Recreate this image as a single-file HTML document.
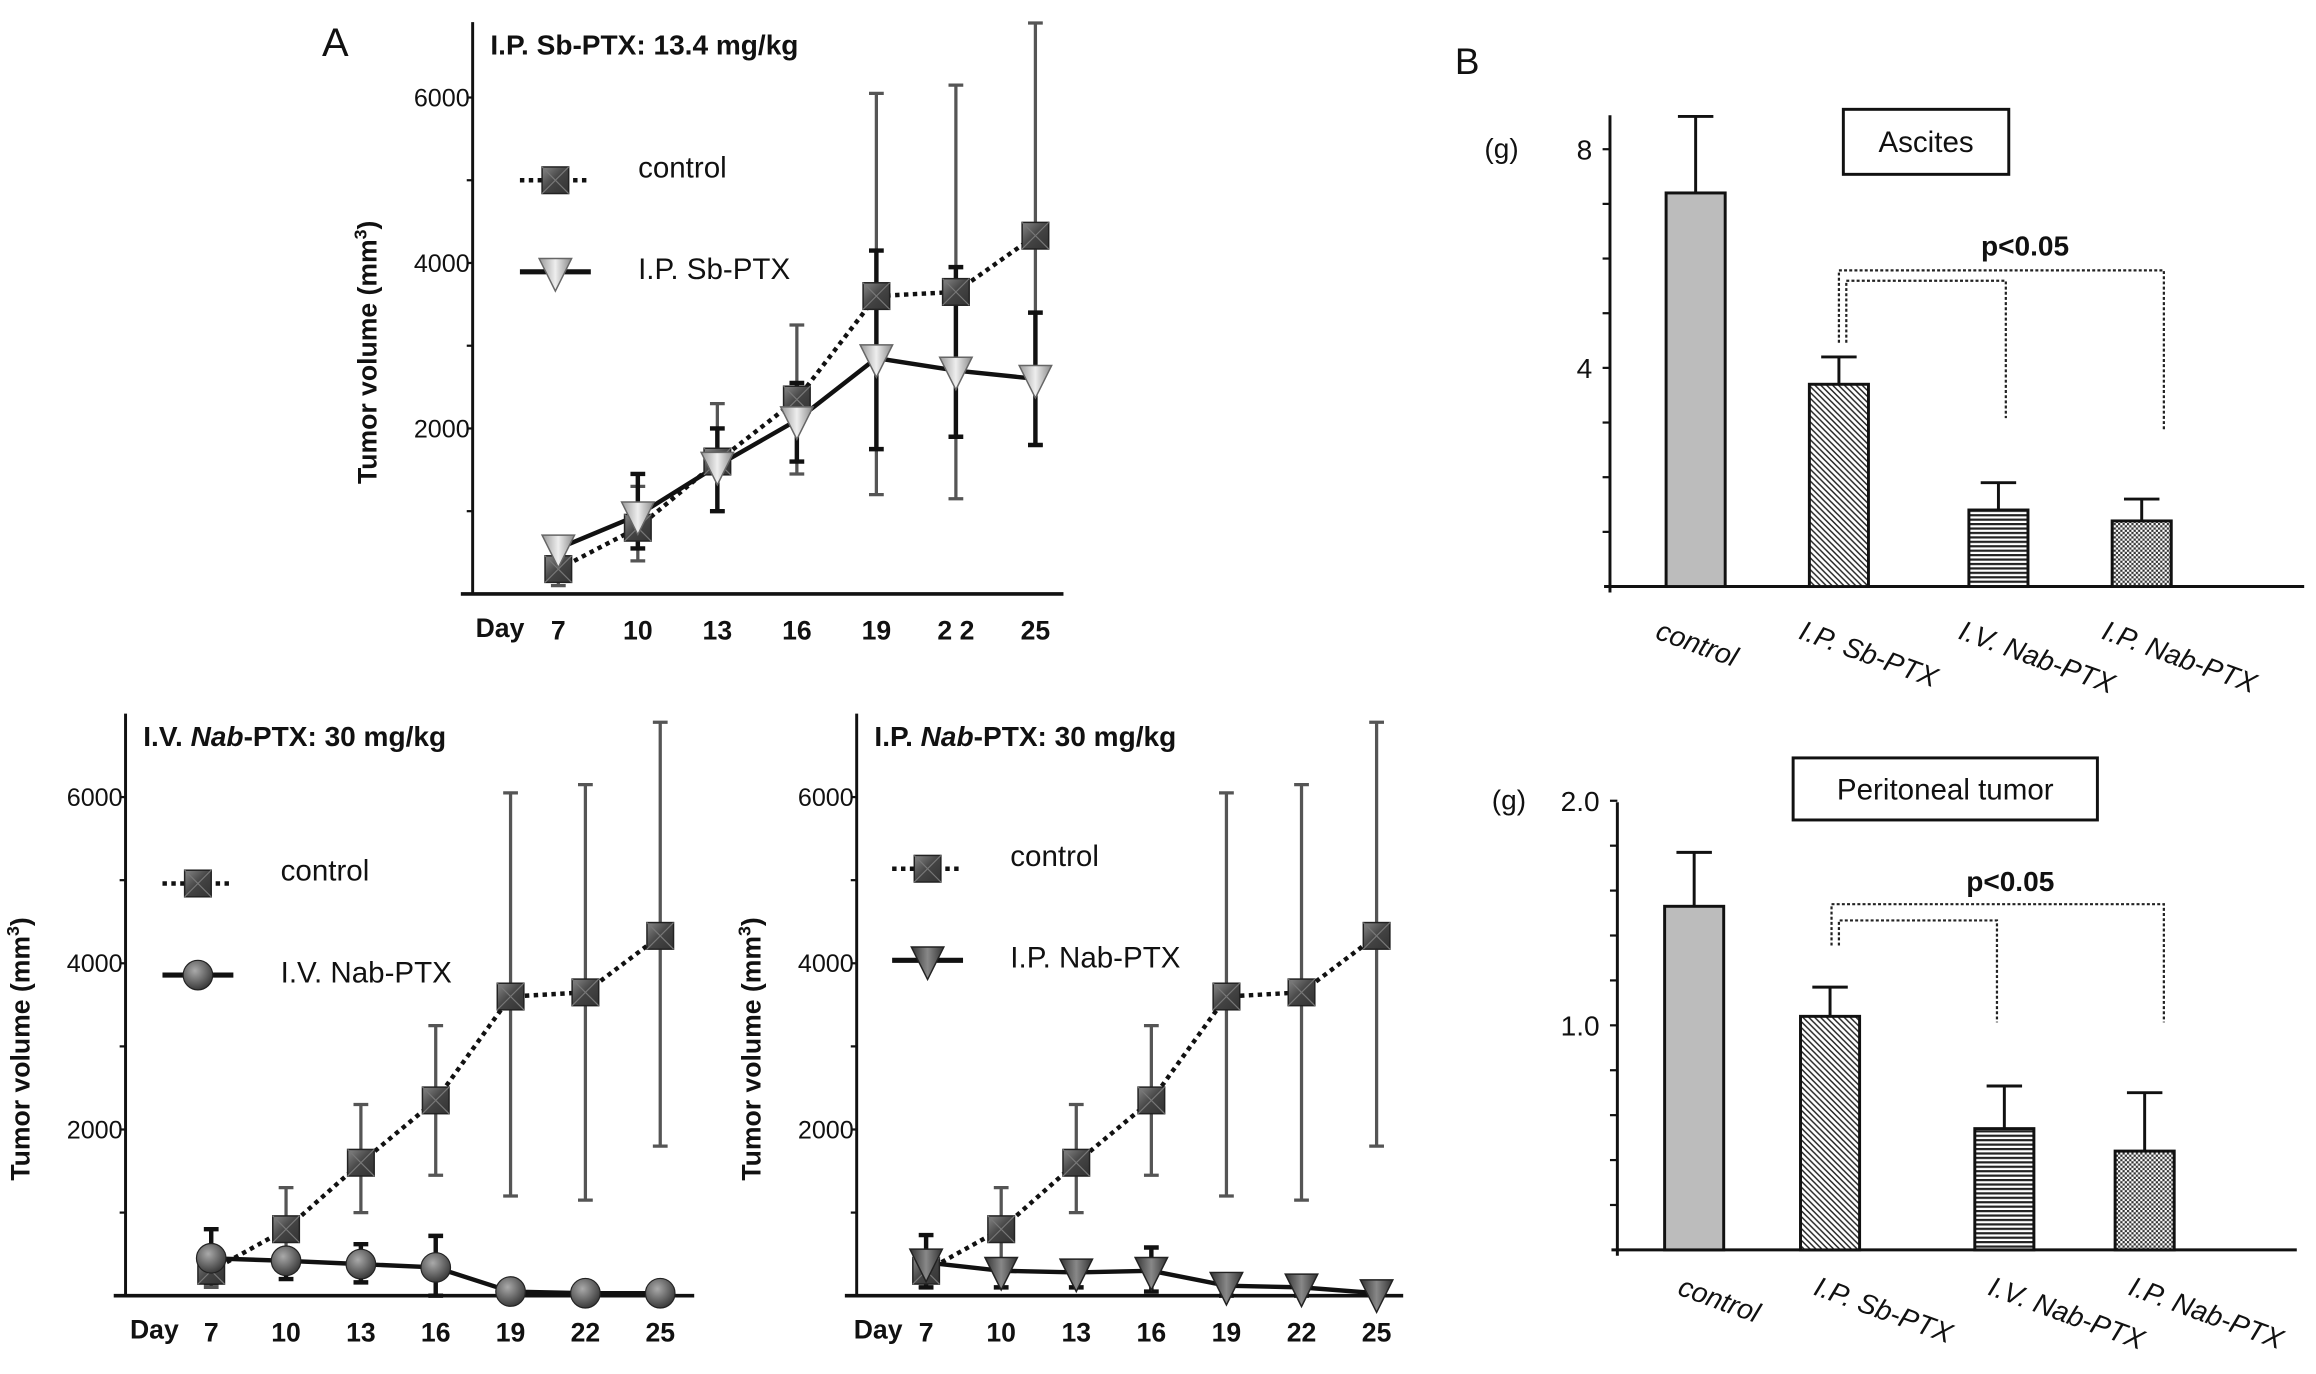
<!DOCTYPE html>
<html><head><meta charset="utf-8"><style>
html,body{margin:0;padding:0;background:#fff;width:2316px;height:1374px;overflow:hidden}
svg{display:block}
text{font-family:"Liberation Sans",Arial,sans-serif;fill:#111}
</style></head><body>
<svg id="fig" width="2316" height="1374" viewBox="0 0 1568 930" preserveAspectRatio="none" xmlns="http://www.w3.org/2000/svg">
<defs>
<linearGradient id="sq" x1="0" y1="0" x2="1" y2="1"><stop offset="0" stop-color="#888"/><stop offset="0.5" stop-color="#444"/><stop offset="1" stop-color="#333"/></linearGradient>
<linearGradient id="tri" x1="0" y1="0" x2="1" y2="0"><stop offset="0" stop-color="#999"/><stop offset="0.5" stop-color="#eee"/><stop offset="1" stop-color="#888"/></linearGradient>
<linearGradient id="tri2" x1="0" y1="0" x2="1" y2="0"><stop offset="0" stop-color="#333"/><stop offset="0.5" stop-color="#888"/><stop offset="1" stop-color="#333"/></linearGradient>
<radialGradient id="ball" cx="0.4" cy="0.35" r="0.7"><stop offset="0" stop-color="#aaa"/><stop offset="1" stop-color="#333"/></radialGradient>
<pattern id="diag" width="4" height="4" patternUnits="userSpaceOnUse"><rect width="4" height="4" fill="#fff"/><path d="M0,0 L4,4 M-1,3 L1,5 M3,-1 L5,1" stroke="#222" stroke-width="1"/></pattern>
<pattern id="horiz" width="4" height="3" patternUnits="userSpaceOnUse"><rect width="4" height="3" fill="#fff"/><rect y="0" width="4" height="1.5" fill="#222"/></pattern>
<pattern id="check" width="3" height="3" patternUnits="userSpaceOnUse"><rect width="3" height="3" fill="#fff"/><rect width="1.5" height="1.5" fill="#333"/><rect x="1.5" y="1.5" width="1.5" height="1.5" fill="#333"/></pattern>
</defs>
<text x="218" y="38" font-size="27">A</text>
<text x="985" y="50" font-size="25">B</text>
<g id="charts"></g>
</svg>
<script>
const days=[7,10,13,16,19,22,25];
const ctrlMean=[300,800,1600,2350,3600,3650,4330];
const ctrlHi=[450,1300,2300,3250,6050,6150,6900];
const ctrlLo=[100,400,1000,1450,1200,1150,1800];
const sbMean=[550,950,1550,2100,2850,2700,2600];
const sbHi=[650,1450,2000,2550,4150,3950,3400];
const sbLo=[300,550,1000,1600,1750,1900,1800];
const ivMean=[450,420,380,340,50,30,30];
const ivHi=[800,550,620,720,80,60,60];
const ivLo=[150,200,160,0,0,0,0];
const ipMean=[400,300,280,300,120,100,30];
const ipHi=[730,320,420,580,140,120,50];
const ipLo=[100,100,100,50,0,0,0];
const yTicks=[2000,4000,6000];
const barCats=['control','I.P. Sb-PTX','I.V. Nab-PTX','I.P. Nab-PTX'];
const ascMean=[7.2,3.7,1.4,1.2];
const ascErr=[8.6,4.2,1.9,1.6];
const perMean=[1.53,1.04,0.54,0.44];
const perErr=[1.77,1.17,0.73,0.70];
const ascTicks=[4,8];
const perTicks=['1.0','2.0'];

const NS='http://www.w3.org/2000/svg';
const root=document.getElementById('charts');
function el(tag,attrs,parent,txt){const e=document.createElementNS(NS,tag);for(const k in attrs)e.setAttribute(k,attrs[k]);if(txt!==undefined)e.textContent=txt;(parent||root).appendChild(e);return e;}

function marker(g,kind,x,y){
  if(kind==='sq'){el('rect',{x:x-9,y:y-9,width:18,height:18,fill:'url(#sq)',stroke:'#222','stroke-width':1},g);
    el('path',{d:`M${x-9},${y-9}L${x+9},${y+9}M${x+9},${y-9}L${x-9},${y+9}`,stroke:'#777','stroke-width':0.8},g);}
  else if(kind==='tri'){el('path',{d:`M${x-11},${y-9}L${x+11},${y-9}L${x},${y+13}Z`,fill:'url(#tri)',stroke:'#666','stroke-width':1},g);}
  else if(kind==='tri2'){el('path',{d:`M${x-11},${y-9}L${x+11},${y-9}L${x},${y+13}Z`,fill:'url(#tri2)',stroke:'#222','stroke-width':1},g);}
  else {el('ellipse',{cx:x,cy:y,rx:10,ry:10,fill:'url(#ball)',stroke:'#222','stroke-width':0.8},g);}
}

function lineChart(c){
  const g=el('g',{});
  
  
  const X=d=>c.x0+(d-7)*(c.x1-c.x0)/18;
  const Y=v=>c.base-v*c.per2000/2000;
  const ya=el('line',{x1:c.ax,y1:c.top,x2:c.ax,y2:c.base,stroke:'#111','stroke-width':2},g);
  
  const xa=el('line',{x1:c.ax-8,y1:c.base,x2:c.xEnd,y2:c.base,stroke:'#111','stroke-width':2.5},g);
  
  for(let v=1000;v<=6000;v+=1000){el('line',{x1:c.ax-4,y1:Y(v),x2:c.ax,y2:Y(v),stroke:'#111','stroke-width':1.5},g);}
  yTicks.forEach(v=>{const t=el('text',{x:c.ax-2,y:Y(v)+6,'font-size':17,'text-anchor':'end'},g,String(v));
    });
  const dl=el('text',{x:c.dayX,y:c.base+29,'font-size':18,'font-weight':'bold'},g,'Day');
  
  days.forEach(d=>{const t=el('text',{x:X(d),y:c.base+31,'font-size':18,'font-weight':'bold','text-anchor':'middle'},g,d===22&&c.sp?'2 2':String(d));
    });
  const yt=el('text',{transform:`translate(${c.ax-65},${(c.top+c.base)/2+30}) rotate(-90)`,'font-size':18,'font-weight':'bold','text-anchor':'middle'},g);
  
  yt.innerHTML='Tumor volume (mm<tspan dy="-7" font-size="12">3</tspan><tspan dy="7">)</tspan>';
  const ti=el('text',{x:c.ax+12,y:c.top+22,'font-size':19,'font-weight':'bold'},g);
  
  ti.innerHTML=c.title;
  function errs(mean,hi,lo,col,w){days.forEach((d,i)=>{const x=X(d);
    const e=el('path',{d:`M${x},${Y(hi[i])}L${x},${Y(lo[i])}M${x-5},${Y(hi[i])}L${x+5},${Y(hi[i])}M${x-5},${Y(lo[i])}L${x+5},${Y(lo[i])}`,stroke:col,'stroke-width':w,fill:'none'},g);
    });}
  errs(ctrlMean,ctrlHi,ctrlLo,'#555',2.2);
  errs(c.tMean,c.tHi,c.tLo,'#111',3);
  const pts=(m)=>days.map((d,i)=>X(d)+','+Y(m[i])).join(' ');
  const l1=el('polyline',{points:pts(ctrlMean),fill:'none',stroke:'#111','stroke-width':3,'stroke-dasharray':'3,3'},g);
  
  const l2=el('polyline',{points:pts(c.tMean),fill:'none',stroke:'#111','stroke-width':3},g);
  
  days.forEach((d,i)=>marker(g,'sq',X(d),Y(ctrlMean[i])));
  days.forEach((d,i)=>marker(g,c.tk,X(d),Y(c.tMean[i])));
  const lg=el('g',{},g);
  el('line',{x1:c.lx,y1:c.ly,x2:c.lx+48,y2:c.ly,stroke:'#111','stroke-width':3,'stroke-dasharray':'3,3'},lg);
  marker(lg,'sq',c.lx+24,c.ly);
  el('text',{x:c.lx+80,y:c.ly-2,'font-size':20},lg,'control');
  el('line',{x1:c.lx,y1:c.ly+62,x2:c.lx+48,y2:c.ly+62,stroke:'#111','stroke-width':3.5},lg);
  marker(lg,c.tk,c.lx+24,c.ly+62);
  el('text',{x:c.lx+80,y:c.ly+67,'font-size':20},lg,c.lname);
}
lineChart({name:'chart-ip-sb-ptx',ax:320,top:15,base:402,xEnd:720,per2000:112,x0:378,x1:701,dayX:322,sp:true,
  title:'I.P. Sb-PTX: 13.4 mg/kg',tMean:sbMean,tHi:sbHi,tLo:sbLo,tk:'tri',lx:352,ly:122,lname:'I.P. Sb-PTX'});
lineChart({name:'chart-iv-nab-ptx',ax:85,top:483,base:877,xEnd:470,per2000:112.5,x0:143,x1:447,dayX:88,
  title:'I.V. <tspan font-style="italic">Nab</tspan>-PTX: 30 mg/kg',tMean:ivMean,tHi:ivHi,tLo:ivLo,tk:'ball',lx:110,ly:598,lname:'I.V. Nab-PTX'});
lineChart({name:'chart-ip-nab-ptx',ax:580,top:483,base:877,xEnd:950,per2000:112.5,x0:627,x1:932,dayX:578,
  title:'I.P. <tspan font-style="italic">Nab</tspan>-PTX: 30 mg/kg',tMean:ipMean,tHi:ipHi,tLo:ipLo,tk:'tri2',lx:604,ly:588,lname:'I.P. Nab-PTX'});

function barChart(c){
  const g=el('g',{});
  
  
  const Y=v=>c.base-v*c.ppu;
  const ya=el('line',{x1:c.ax,y1:c.top,x2:c.ax,y2:c.base+4,stroke:'#111','stroke-width':2},g);
  
  const xa=el('line',{x1:c.ax-4,y1:c.base,x2:c.xEnd,y2:c.base,stroke:'#111','stroke-width':2},g);
  
  for(let v=c.minor;v<=c.max+1e-6;v+=c.minor){el('line',{x1:c.ax-5,y1:Y(v),x2:c.ax,y2:Y(v),stroke:'#111','stroke-width':1.5},g);}
  c.ticks.forEach(v=>{const t=el('text',{x:c.ax-12,y:Y(parseFloat(v))+7,'font-size':19,'text-anchor':'end'},g,String(v));
    });
  const u=el('text',{x:c.ax-85,y:Y(c.max)+6,'font-size':19},g,'(g)');
  
  const fills=['#bcbcbc','url(#diag)','url(#horiz)','url(#check)'];
  c.mean.forEach((m,i)=>{const x=c.bx[i];
    const r=el('rect',{x:x,y:Y(m),width:40,height:c.base-Y(m),fill:fills[i],stroke:'#111','stroke-width':2},g);
    
    const e=el('path',{d:`M${x+20},${Y(m)}L${x+20},${Y(c.err[i])}M${x+8},${Y(c.err[i])}L${x+32},${Y(c.err[i])}`,stroke:'#111','stroke-width':2,fill:'none'},g);
    
    const t=el('text',{transform:`translate(${x+c.lxo},${c.base+c.lyo}) rotate(20)`,'font-size':19,'font-style':'italic'},g,barCats[i]);
    });
  const b=el('rect',{x:c.box[0],y:c.box[1],width:c.box[2],height:c.box[3],fill:'#fff',stroke:'#111','stroke-width':2},g);
  
  const bt=el('text',{x:c.box[0]+c.box[2]/2,y:c.box[1]+c.box[3]/2+7,'font-size':20,'text-anchor':'middle'},g,c.title);
  
  const br=el('path',{d:c.br,stroke:'#222','stroke-width':1.5,'stroke-dasharray':'2,1.5',fill:'none'},g);
  
  const p=el('text',{x:c.p[0],y:c.p[1],'font-size':19,'font-weight':'bold','text-anchor':'middle'},g,'p<0.05');
  
}
barChart({name:'chart-ascites',ax:1090,top:78,base:397,xEnd:1560,ppu:37,minor:1,max:8,ticks:ascTicks,mean:ascMean,err:ascErr,
  bx:[1128,1225,1333,1430],lxo:-8,lyo:35,box:[1248,74,112,44],title:'Ascites',p:[1371,173],
  br:'M1245,232L1245,183L1465,183L1465,292M1250,232L1250,190L1358,190L1358,283'});
barChart({name:'chart-peritoneal-tumor',ax:1095,top:543,base:846,xEnd:1555,ppu:152,minor:0.2,max:2.0,ticks:perTicks,mean:perMean,err:perErr,
  bx:[1127,1219,1337,1432],lxo:8,lyo:30,box:[1214,513,206,42],title:'Peritoneal tumor',p:[1361,603],
  br:'M1240,640L1240,612L1465,612L1465,692M1245,640L1245,623L1352,623L1352,692'});
</script>
</body></html>
